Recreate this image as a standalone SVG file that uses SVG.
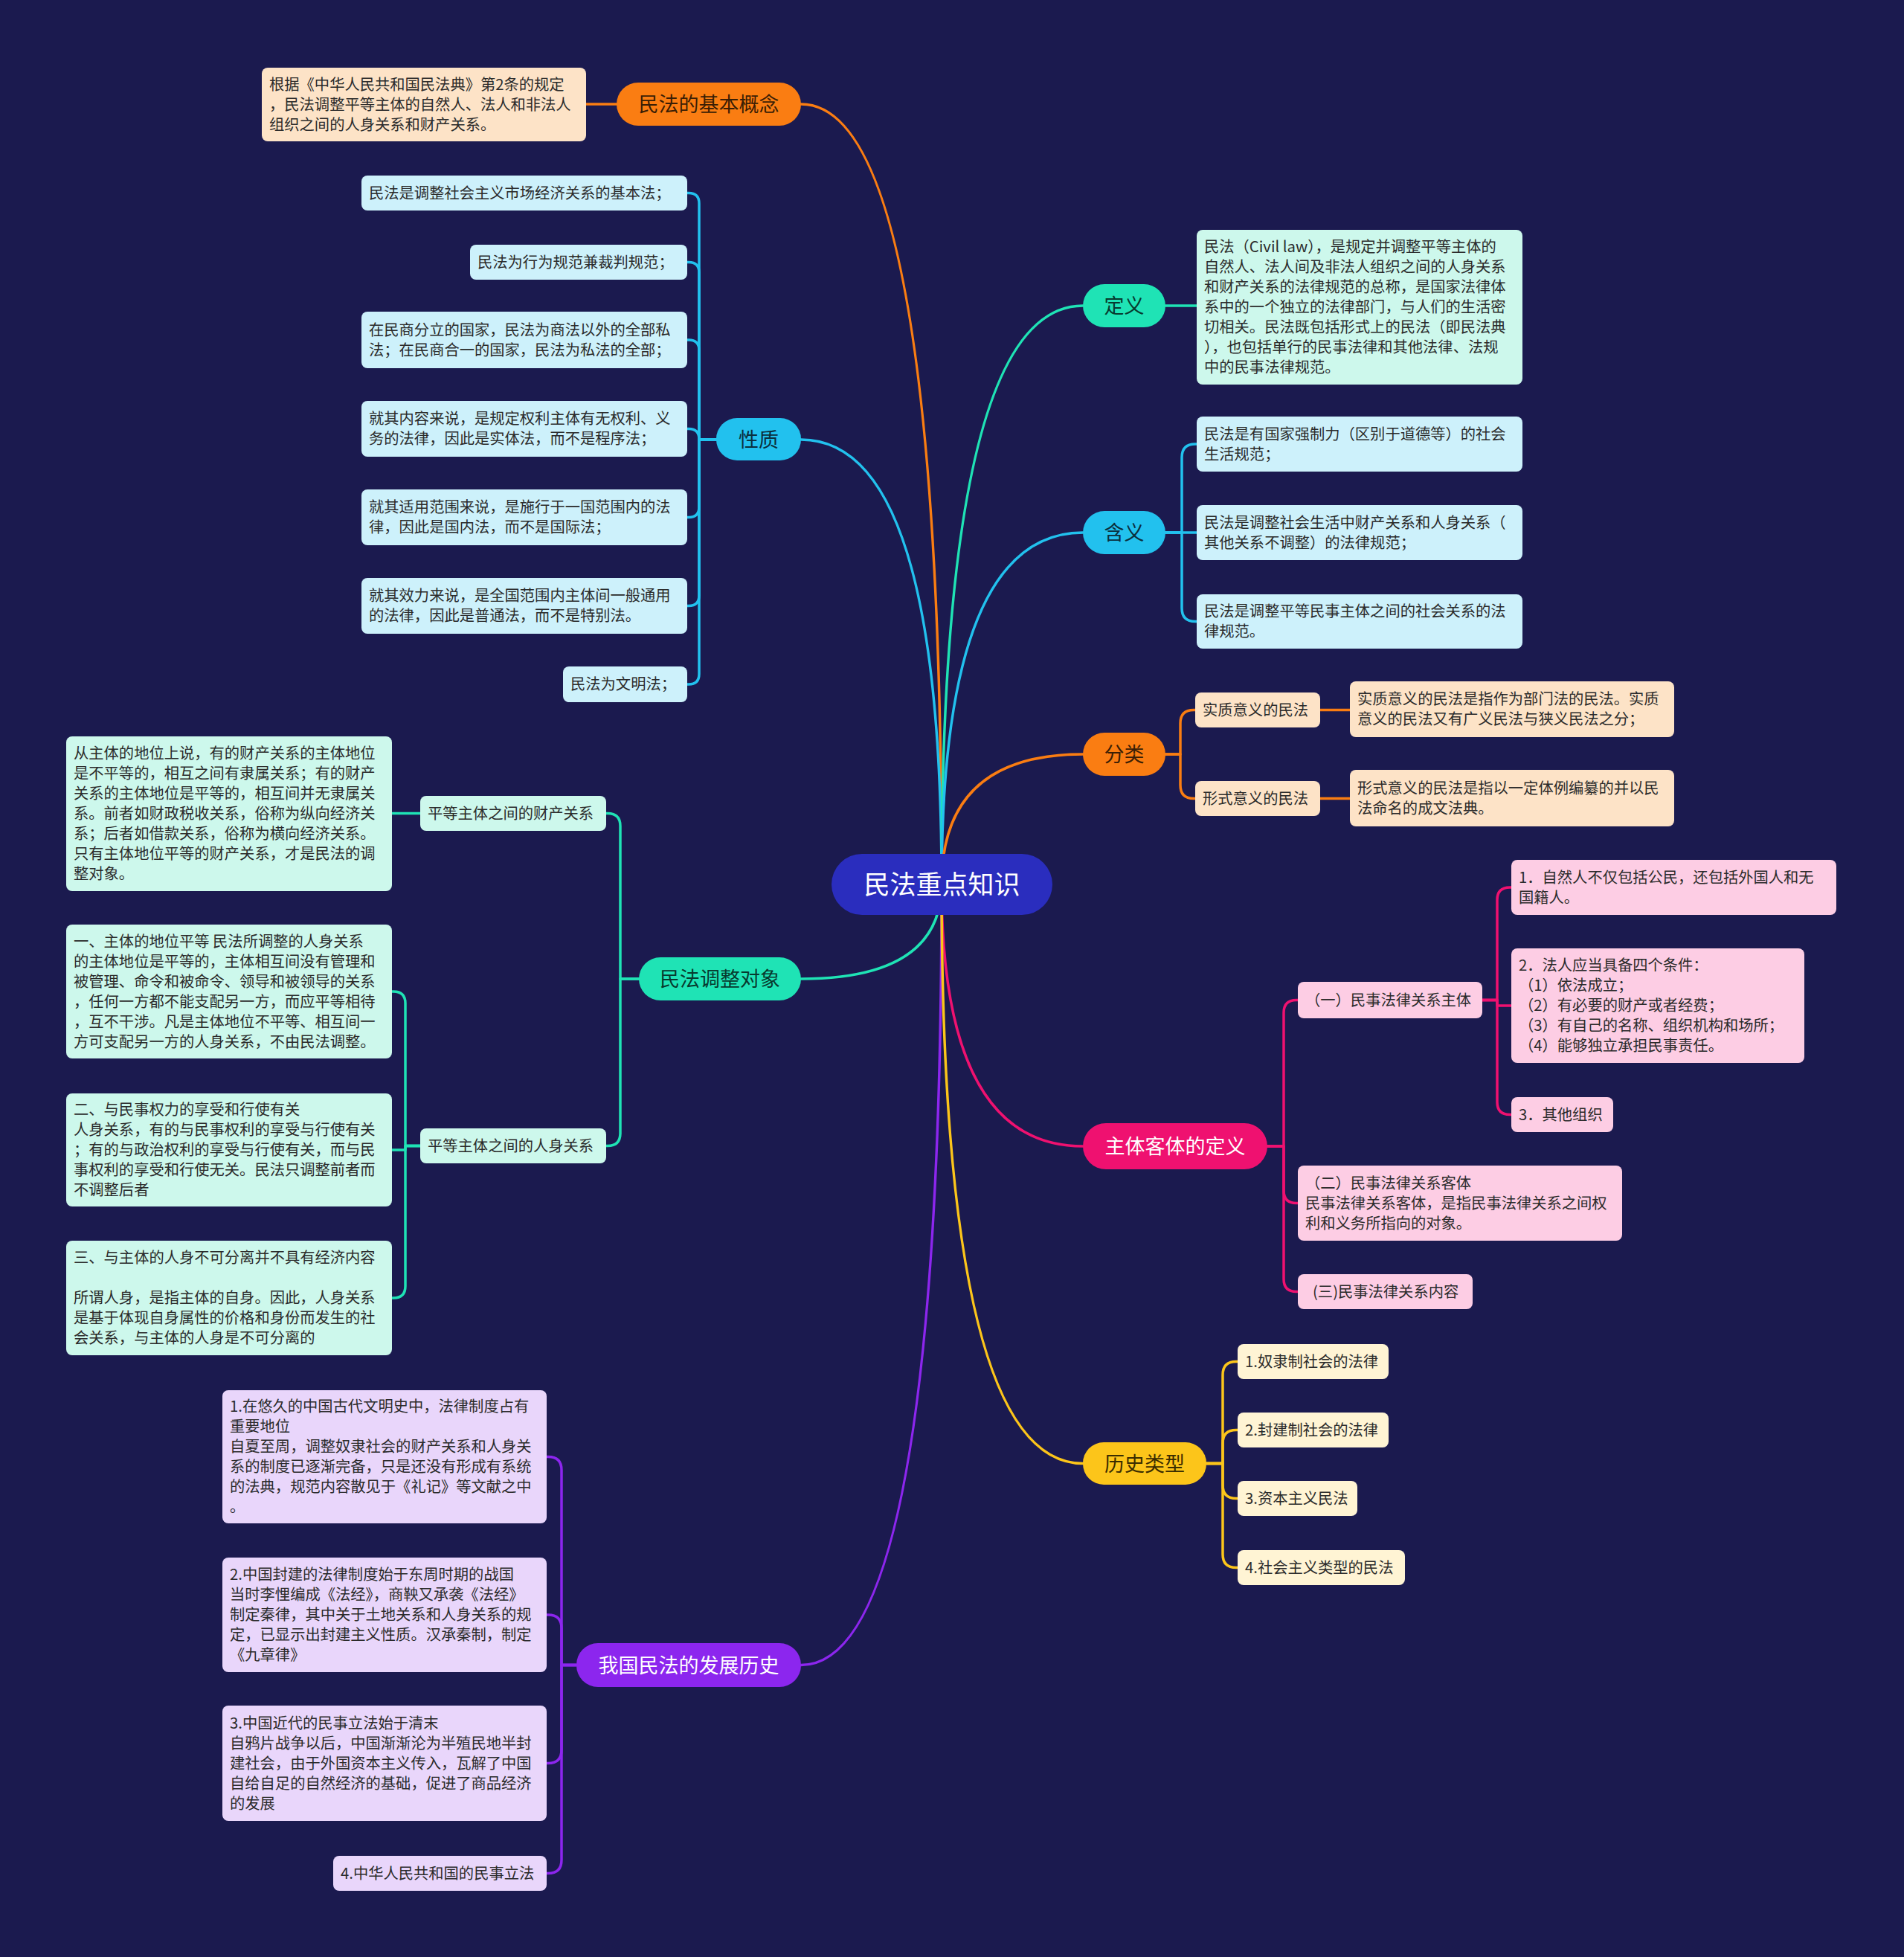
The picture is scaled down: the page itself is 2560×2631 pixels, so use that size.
<svg xmlns="http://www.w3.org/2000/svg" width="2560" height="2631" viewBox="0 0 2560 2631">
<style>
text{font-family:"Noto Sans CJK SC","Noto Sans",sans-serif;}
.t{font-size:20.3px;fill:#2b2b2b;}
.m{font-size:27px;text-anchor:middle;}
.dk{fill:#2a1f10;}
.wh{fill:#ffffff;}
.ln{fill:none;stroke-width:3.5;stroke-linecap:round;stroke-linejoin:round;}
.or{stroke:#fa7d12;} .cy{stroke:#22c1ee;} .te{stroke:#1fe3b5;} .mg{stroke:#ef1170;} .ye{stroke:#fcc51a;} .pu{stroke:#8c26ee;}
.fpeach{fill:#fde3c7;} .fcyan{fill:#cdf1fb;} .fmint{fill:#cdf8ec;} .fpink{fill:#fdcde4;} .fyel{fill:#fff4d4;} .flav{fill:#e9d6fb;}
</style>
<rect x="0" y="0" width="2560" height="2631" fill="#1b1a4f"/>

<g id="connectors">
<path class="ln or" d="M1266,1189 Q1266,140 1077,140"/>
<path class="ln cy" d="M1266,1189 Q1266,591 1077,591"/>
<path class="ln te" d="M1266,1189 Q1266,1316 1077,1316"/>
<path class="ln pu" d="M1266,1189 Q1266,2238.5 1077,2238.5"/>
<path class="ln te" d="M1266,1189 Q1266,411 1456,411"/>
<path class="ln cy" d="M1266,1189 Q1266,716 1456,716"/>
<path class="ln or" d="M1266,1189 Q1266,1014 1456,1014"/>
<path class="ln mg" d="M1266,1189 Q1266,1541 1456,1541"/>
<path class="ln ye" d="M1266,1189 Q1266,1967.5 1456,1967.5"/>

<path class="ln or" d="M829,140 H788"/>

<path class="ln cy" d="M963,591 H940 V273.5 Q940,259.5 926,259.5 H924"/>
<path class="ln cy" d="M963,591 H940 V366.5 Q940,352.5 926,352.5 H924"/>
<path class="ln cy" d="M963,591 H940 V471 Q940,457 926,457 H924"/>
<path class="ln cy" d="M963,591 H940 V590.5 Q940,576.5 926,576.5 H924"/>
<path class="ln cy" d="M963,591 H940 V681.5 Q940,695.5 926,695.5 H924"/>
<path class="ln cy" d="M963,591 H940 V800.5 Q940,814.5 926,814.5 H924"/>
<path class="ln cy" d="M963,591 H940 V906 Q940,920 926,920 H924"/>

<path class="ln te" d="M859,1316 H834 V1110.5 Q834,1093.5 817,1093.5 H815"/>
<path class="ln te" d="M859,1316 H834 V1523.5 Q834,1540.5 817,1540.5 H815"/>
<path class="ln te" d="M565,1093.5 H527"/>
<path class="ln te" d="M565,1540.5 H545 V1349 Q545,1333 529,1333 H527"/>
<path class="ln te" d="M565,1540.5 H545 V1546 H527"/>
<path class="ln te" d="M565,1540.5 H545 V1729 Q545,1745 529,1745 H527"/>

<path class="ln pu" d="M775,2238.5 H755 V1976.5 Q755,1958.5 737,1958.5 H735"/>
<path class="ln pu" d="M775,2238.5 H755 V2189 Q755,2171 737,2171 H735"/>
<path class="ln pu" d="M775,2238.5 H755 V2352.5 Q755,2370.5 737,2370.5 H735"/>
<path class="ln pu" d="M775,2238.5 H755 V2500.5 Q755,2518.5 737,2518.5 H735"/>

<path class="ln te" d="M1567,411 H1609"/>

<path class="ln cy" d="M1567,716 H1589 V615 Q1589,597 1607,597 H1609"/>
<path class="ln cy" d="M1567,716 H1609"/>
<path class="ln cy" d="M1567,716 H1589 V817.5 Q1589,835.5 1607,835.5 H1609"/>

<path class="ln or" d="M1567,1014 H1587 V972.5 Q1587,954.5 1605,954.5 H1607"/>
<path class="ln or" d="M1567,1014 H1587 V1055.5 Q1587,1073.5 1605,1073.5 H1607"/>
<path class="ln or" d="M1775,954.5 H1815"/>
<path class="ln or" d="M1775,1073.5 H1815"/>

<path class="ln mg" d="M1704,1541 H1726 V1361.5 Q1726,1344.5 1743,1344.5 H1745"/>
<path class="ln mg" d="M1704,1541 H1726 V1600.5 Q1726,1617.5 1743,1617.5 H1745"/>
<path class="ln mg" d="M1704,1541 H1726 V1719.5 Q1726,1736.5 1743,1736.5 H1745"/>
<path class="ln mg" d="M1993,1344.5 H2013 V1210 Q2013,1193 2030,1193 H2032"/>
<path class="ln mg" d="M1993,1344.5 H2013 V1352 H2032"/>
<path class="ln mg" d="M1993,1344.5 H2013 V1481.5 Q2013,1498.5 2030,1498.5 H2032"/>

<path class="ln ye" d="M1622,1967.5 H1644 V1848.5 Q1644,1830.5 1662,1830.5 H1664"/>
<path class="ln ye" d="M1622,1967.5 H1644 V1940.5 Q1644,1922.5 1662,1922.5 H1664"/>
<path class="ln ye" d="M1622,1967.5 H1644 V1996.5 Q1644,2014.5 1662,2014.5 H1664"/>
<path class="ln ye" d="M1622,1967.5 H1644 V2089.5 Q1644,2107.5 1662,2107.5 H1664"/>
</g>

<g id="root">
<rect x="1118" y="1148" width="297" height="82" rx="41" fill="#2a2dbe"/>
<text x="1266.5" y="1202" font-size="35" text-anchor="middle" class="wh">民法重点知识</text>
</g>

<!-- 民法的基本概念 -->
<g id="n-jiben">
<rect x="829" y="111" width="248" height="58" rx="29" fill="#fa7d12"/>
<text x="953" y="150" class="m" fill="#3a1e05">民法的基本概念</text>
</g>
<g id="n-jiben-1">
<rect x="352" y="91" width="436" height="99" rx="8" class="fpeach"/>
<text class="t"><tspan x="362" y="120.5">根据《中华人民共和国民法典》第2条的规定</tspan><tspan x="362" y="147.5">，民法调整平等主体的自然人、法人和非法人</tspan><tspan x="362" y="174.5">组织之间的人身关系和财产关系。</tspan></text>
</g>

<!-- 性质 -->
<g id="n-xingzhi">
<rect x="963" y="562" width="114" height="57" rx="28" fill="#22c1ee"/>
<text x="1020" y="601" class="m" fill="#0b2f3d">性质</text>
</g>
<g id="n-xingzhi-1"><rect x="486" y="236" width="438" height="47" rx="8" class="fcyan"/><text class="t" x="496" y="266.5">民法是调整社会主义市场经济关系的基本法；</text></g>
<g id="n-xingzhi-2"><rect x="632" y="329" width="292" height="47" rx="8" class="fcyan"/><text class="t" x="642" y="359.5">民法为行为规范兼裁判规范；</text></g>
<g id="n-xingzhi-3"><rect x="486" y="419" width="438" height="76" rx="8" class="fcyan"/><text class="t"><tspan x="496" y="450.5">在民商分立的国家，民法为商法以外的全部私</tspan><tspan x="496" y="477.5">法；在民商合一的国家，民法为私法的全部；</tspan></text></g>
<g id="n-xingzhi-4"><rect x="486" y="539" width="438" height="75" rx="8" class="fcyan"/><text class="t"><tspan x="496" y="570">就其内容来说，是规定权利主体有无权利、义</tspan><tspan x="496" y="597">务的法律，因此是实体法，而不是程序法；</tspan></text></g>
<g id="n-xingzhi-5"><rect x="486" y="658" width="438" height="75" rx="8" class="fcyan"/><text class="t"><tspan x="496" y="689">就其适用范围来说，是施行于一国范围内的法</tspan><tspan x="496" y="716">律，因此是国内法，而不是国际法；</tspan></text></g>
<g id="n-xingzhi-6"><rect x="486" y="777" width="438" height="75" rx="8" class="fcyan"/><text class="t"><tspan x="496" y="808">就其效力来说，是全国范围内主体间一般通用</tspan><tspan x="496" y="835">的法律，因此是普通法，而不是特别法。</tspan></text></g>
<g id="n-xingzhi-7"><rect x="757" y="896" width="167" height="48" rx="8" class="fcyan"/><text class="t" x="767" y="927">民法为文明法；</text></g>

<!-- 民法调整对象 -->
<g id="n-duixiang">
<rect x="859" y="1287" width="218" height="58" rx="29" fill="#1fe3b5"/>
<text x="968" y="1326" class="m" fill="#073a2e">民法调整对象</text>
</g>
<g id="n-caichan"><rect x="565" y="1070" width="250" height="47" rx="8" class="fmint"/><text class="t" x="575" y="1100.5">平等主体之间的财产关系</text></g>
<g id="n-renshen"><rect x="565" y="1517" width="250" height="47" rx="8" class="fmint"/><text class="t" x="575" y="1547.5">平等主体之间的人身关系</text></g>
<g id="n-caichan-1"><rect x="89" y="990" width="438" height="208" rx="8" class="fmint"/><text class="t"><tspan x="99" y="1020">从主体的地位上说，有的财产关系的主体地位</tspan><tspan x="99" y="1047">是不平等的，相互之间有隶属关系；有的财产</tspan><tspan x="99" y="1074">关系的主体地位是平等的，相互间并无隶属关</tspan><tspan x="99" y="1101">系。前者如财政税收关系，俗称为纵向经济关</tspan><tspan x="99" y="1128">系；后者如借款关系，俗称为横向经济关系。</tspan><tspan x="99" y="1155">只有主体地位平等的财产关系，才是民法的调</tspan><tspan x="99" y="1182">整对象。</tspan></text></g>
<g id="n-renshen-1"><rect x="89" y="1243" width="438" height="180" rx="8" class="fmint"/><text class="t"><tspan x="99" y="1272.5">一、主体的地位平等 民法所调整的人身关系</tspan><tspan x="99" y="1299.5">的主体地位是平等的，主体相互间没有管理和</tspan><tspan x="99" y="1326.5">被管理、命令和被命令、领导和被领导的关系</tspan><tspan x="99" y="1353.5">，任何一方都不能支配另一方，而应平等相待</tspan><tspan x="99" y="1380.5">，互不干涉。凡是主体地位不平等、相互间一</tspan><tspan x="99" y="1407.5">方可支配另一方的人身关系，不由民法调整。</tspan></text></g>
<g id="n-renshen-2"><rect x="89" y="1470" width="438" height="152" rx="8" class="fmint"/><text class="t"><tspan x="99" y="1499">二、与民事权力的享受和行使有关</tspan><tspan x="99" y="1526">人身关系，有的与民事权利的享受与行使有关</tspan><tspan x="99" y="1553">；有的与政治权利的享受与行使有关，而与民</tspan><tspan x="99" y="1580">事权利的享受和行使无关。民法只调整前者而</tspan><tspan x="99" y="1607">不调整后者</tspan></text></g>
<g id="n-renshen-3"><rect x="89" y="1668" width="438" height="154" rx="8" class="fmint"/><text class="t"><tspan x="99" y="1698">三、与主体的人身不可分离并不具有经济内容</tspan><tspan x="99" y="1752">所谓人身，是指主体的自身。因此，人身关系</tspan><tspan x="99" y="1779">是基于体现自身属性的价格和身份而发生的社</tspan><tspan x="99" y="1806">会关系，与主体的人身是不可分离的</tspan></text></g>

<!-- 我国民法的发展历史 -->
<g id="n-lishi">
<rect x="775" y="2209" width="302" height="59" rx="29" fill="#8c26ee"/>
<text x="926" y="2248.5" class="m wh">我国民法的发展历史</text>
</g>
<g id="n-lishi-1"><rect x="299" y="1869" width="436" height="179" rx="8" class="flav"/><text class="t"><tspan x="309" y="1898">1.在悠久的中国古代文明史中，法律制度占有</tspan><tspan x="309" y="1925">重要地位</tspan><tspan x="309" y="1952">自夏至周，调整奴隶社会的财产关系和人身关</tspan><tspan x="309" y="1979">系的制度已逐渐完备，只是还没有形成有系统</tspan><tspan x="309" y="2006">的法典，规范内容散见于《礼记》等文献之中</tspan><tspan x="309" y="2033">。</tspan></text></g>
<g id="n-lishi-2"><rect x="299" y="2094" width="436" height="154" rx="8" class="flav"/><text class="t"><tspan x="309" y="2124">2.中国封建的法律制度始于东周时期的战国</tspan><tspan x="309" y="2151">当时李悝编成《法经》，商鞅又承袭《法经》</tspan><tspan x="309" y="2178">制定秦律，其中关于土地关系和人身关系的规</tspan><tspan x="309" y="2205">定，已显示出封建主义性质。汉承秦制，制定</tspan><tspan x="309" y="2232">《九章律》</tspan></text></g>
<g id="n-lishi-3"><rect x="299" y="2293" width="436" height="155" rx="8" class="flav"/><text class="t"><tspan x="309" y="2323.5">3.中国近代的民事立法始于清末</tspan><tspan x="309" y="2350.5">自鸦片战争以后，中国渐渐沦为半殖民地半封</tspan><tspan x="309" y="2377.5">建社会，由于外国资本主义传入，瓦解了中国</tspan><tspan x="309" y="2404.5">自给自足的自然经济的基础，促进了商品经济</tspan><tspan x="309" y="2431.5">的发展</tspan></text></g>
<g id="n-lishi-4"><rect x="448" y="2495" width="287" height="47" rx="8" class="flav"/><text class="t" x="458" y="2525.5">4.中华人民共和国的民事立法</text></g>

<!-- 定义 -->
<g id="n-dingyi">
<rect x="1456" y="382" width="111" height="58" rx="29" fill="#1fe3b5"/>
<text x="1511.5" y="421" class="m" fill="#073a2e">定义</text>
</g>
<g id="n-dingyi-1"><rect x="1609" y="309" width="438" height="208" rx="8" class="fmint"/><text class="t"><tspan x="1619" y="339">民法（Civil law），是规定并调整平等主体的</tspan><tspan x="1619" y="366">自然人、法人间及非法人组织之间的人身关系</tspan><tspan x="1619" y="393">和财产关系的法律规范的总称，是国家法律体</tspan><tspan x="1619" y="420">系中的一个独立的法律部门，与人们的生活密</tspan><tspan x="1619" y="447">切相关。民法既包括形式上的民法（即民法典</tspan><tspan x="1619" y="474">），也包括单行的民事法律和其他法律、法规</tspan><tspan x="1619" y="501">中的民事法律规范。</tspan></text></g>

<!-- 含义 -->
<g id="n-hanyi">
<rect x="1456" y="687" width="111" height="58" rx="29" fill="#22c1ee"/>
<text x="1511.5" y="726" class="m" fill="#0b2f3d">含义</text>
</g>
<g id="n-hanyi-1"><rect x="1609" y="560" width="438" height="74" rx="8" class="fcyan"/><text class="t"><tspan x="1619" y="590.5">民法是有国家强制力（区别于道德等）的社会</tspan><tspan x="1619" y="617.5">生活规范；</tspan></text></g>
<g id="n-hanyi-2"><rect x="1609" y="679" width="438" height="74" rx="8" class="fcyan"/><text class="t"><tspan x="1619" y="709.5">民法是调整社会生活中财产关系和人身关系（</tspan><tspan x="1619" y="736.5">其他关系不调整）的法律规范；</tspan></text></g>
<g id="n-hanyi-3"><rect x="1609" y="799" width="438" height="73" rx="8" class="fcyan"/><text class="t"><tspan x="1619" y="829">民法是调整平等民事主体之间的社会关系的法</tspan><tspan x="1619" y="856">律规范。</tspan></text></g>

<!-- 分类 -->
<g id="n-fenlei">
<rect x="1456" y="985" width="111" height="58" rx="29" fill="#fa7d12"/>
<text x="1511.5" y="1024" class="m" fill="#3a1e05">分类</text>
</g>
<g id="n-shizhi"><rect x="1607" y="931" width="168" height="47" rx="8" class="fpeach"/><text class="t" x="1617" y="961.5">实质意义的民法</text></g>
<g id="n-xingshi"><rect x="1607" y="1050" width="168" height="47" rx="8" class="fpeach"/><text class="t" x="1617" y="1080.5">形式意义的民法</text></g>
<g id="n-shizhi-1"><rect x="1815" y="916" width="436" height="75" rx="8" class="fpeach"/><text class="t"><tspan x="1825" y="947">实质意义的民法是指作为部门法的民法。实质</tspan><tspan x="1825" y="974">意义的民法又有广义民法与狭义民法之分；</tspan></text></g>
<g id="n-xingshi-1"><rect x="1815" y="1035" width="436" height="76" rx="8" class="fpeach"/><text class="t"><tspan x="1825" y="1066.5">形式意义的民法是指以一定体例编纂的并以民</tspan><tspan x="1825" y="1093.5">法命名的成文法典。</tspan></text></g>

<!-- 主体客体的定义 -->
<g id="n-zhuti">
<rect x="1456" y="1510" width="248" height="62" rx="31" fill="#ef1170"/>
<text x="1580" y="1551" class="m wh">主体客体的定义</text>
</g>
<g id="n-zhuti-1"><rect x="1745" y="1320" width="248" height="49" rx="8" class="fpink"/><text class="t" x="1755" y="1351.5">（一）民事法律关系主体</text></g>
<g id="n-zhuti-2"><rect x="1745" y="1567" width="436" height="101" rx="8" class="fpink"/><text class="t"><tspan x="1755" y="1597.5">（二）民事法律关系客体</tspan><tspan x="1755" y="1624.5">民事法律关系客体，是指民事法律关系之间权</tspan><tspan x="1755" y="1651.5">利和义务所指向的对象。</tspan></text></g>
<g id="n-zhuti-3"><rect x="1745" y="1713" width="235" height="47" rx="8" class="fpink"/><text class="t" x="1765" y="1743.5">(三)民事法律关系内容</text></g>
<g id="n-zhuti-1-1"><rect x="2032" y="1156" width="437" height="74" rx="8" class="fpink"/><text class="t"><tspan x="2042" y="1186.5">1．自然人不仅包括公民，还包括外国人和无</tspan><tspan x="2042" y="1213.5">国籍人。</tspan></text></g>
<g id="n-zhuti-1-2"><rect x="2032" y="1275" width="394" height="154" rx="8" class="fpink"/><text class="t"><tspan x="2042" y="1305">2．法人应当具备四个条件：</tspan><tspan x="2042" y="1332">（1）依法成立；</tspan><tspan x="2042" y="1359">（2）有必要的财产或者经费；</tspan><tspan x="2042" y="1386">（3）有自己的名称、组织机构和场所；</tspan><tspan x="2042" y="1413">（4）能够独立承担民事责任。</tspan></text></g>
<g id="n-zhuti-1-3"><rect x="2032" y="1475" width="137" height="47" rx="8" class="fpink"/><text class="t" x="2042" y="1505.5">3．其他组织</text></g>

<!-- 历史类型 -->
<g id="n-leixing">
<rect x="1456" y="1939" width="166" height="57" rx="28" fill="#fcc51a"/>
<text x="1539" y="1977.5" class="m" fill="#3a2c00">历史类型</text>
</g>
<g id="n-leixing-1"><rect x="1664" y="1807" width="203" height="47" rx="8" class="fyel"/><text class="t" x="1674" y="1837.5">1.奴隶制社会的法律</text></g>
<g id="n-leixing-2"><rect x="1664" y="1899" width="203" height="47" rx="8" class="fyel"/><text class="t" x="1674" y="1929.5">2.封建制社会的法律</text></g>
<g id="n-leixing-3"><rect x="1664" y="1991" width="161" height="47" rx="8" class="fyel"/><text class="t" x="1674" y="2021.5">3.资本主义民法</text></g>
<g id="n-leixing-4"><rect x="1664" y="2084" width="225" height="47" rx="8" class="fyel"/><text class="t" x="1674" y="2114.5">4.社会主义类型的民法</text></g>
</svg>
